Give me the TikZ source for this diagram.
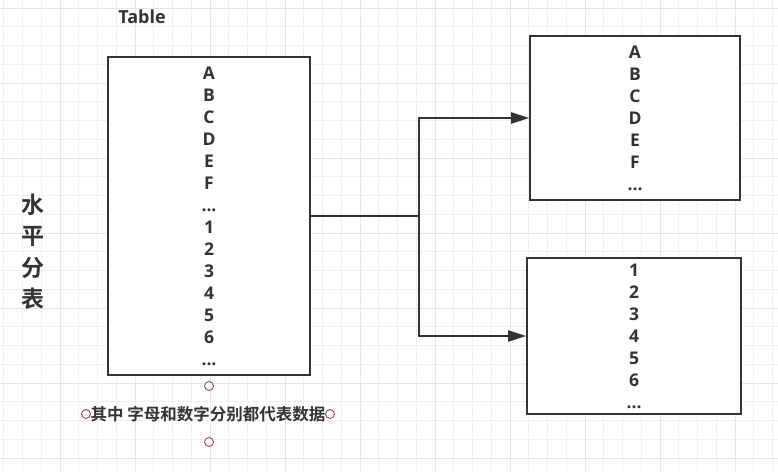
\documentclass[tikz,border=0pt]{standalone}
\usepackage{fontspec}
\setmainfont{Open Sans}[BoldFont={Open Sans Bold}]
\newfontfamily\cjk{Noto Sans CJK SC}[BoldFont={Noto Sans CJK SC Bold}]
\usetikzlibrary{arrows.meta}

\begin{document}
\begin{tikzpicture}[
  x=1pt, y=-1pt,
  minorline/.style = {draw=black!6, line width=0.8pt},
  majorline/.style = {draw=black!10, line width=0.9pt},
  table/.style = {draw=black!80, line width=1.6pt, fill=white, rectangle, align=center,
    font=\fontsize{17.5}{22}\selectfont\bfseries, text=black!80, inner sep=0pt},
  link/.style = {draw=black!80, line width=2pt, -{Triangle[length=18pt, width=11pt]}},
  handle/.style = {draw=red!45!black!70, line width=0.9pt, circle, minimum size=9pt, inner sep=0pt, fill=white},
  label/.style = {text=black!80, font=\bfseries}
]
\useasboundingbox (0,0) rectangle (778,471);
\fill[white] (0,0) rectangle (778,471);
% grid
\foreach \i in {0,...,41} \draw[minorline] ({3.75+18.75*\i},0) -- ++(0,471);
\foreach \i in {0,...,24} \draw[minorline] (0,{8+18.75*\i}) -- ++(778,0);
\foreach \i in {0,...,10} \draw[majorline] ({60+75*\i},0) -- ++(0,471);
\foreach \i in {0,...,6} \draw[majorline] (0,{8+75*\i}) -- ++(778,0);

\node[label, font=\fontsize{18}{20}\selectfont\bfseries] (title) at (142,17) {Table};
\node[label, align=center, font=\cjk\fontsize{23}{31.5}\selectfont\bfseries] (side) at (33,252) {水\\平\\分\\表};

\node[table, minimum width=202pt, minimum height=318pt] (main) at (209,216)
  {A\\B\\C\\D\\E\\F\\...\\1\\2\\3\\4\\5\\6\\...};
\node[table, minimum width=210pt, minimum height=164pt] (letters) at (635,118)
  {A\\B\\C\\D\\E\\F\\...};
\node[table, minimum width=214pt, minimum height=156pt] (digits) at (634,336)
  {1\\2\\3\\4\\5\\6\\...};

\coordinate (split) at (419,216);
\draw[link, -] (main.east) -- (split);
\draw[link] (split) |- (letters.west);
\draw[link] (split) |- (digits.west);

% note with draw.io handles
\node[label, font=\cjk\fontsize{16.5}{18}\selectfont\bfseries, inner sep=0pt] (note) at (208,414) {其中 字母和数字分别都代表数据};
\node[handle] (h1) at (209,386) {};
\node[handle] (h2) at (209,442) {};
\node[handle] (h3) at (86,414) {};
\node[handle] (h4) at (330,414) {};
\end{tikzpicture}
\end{document}
